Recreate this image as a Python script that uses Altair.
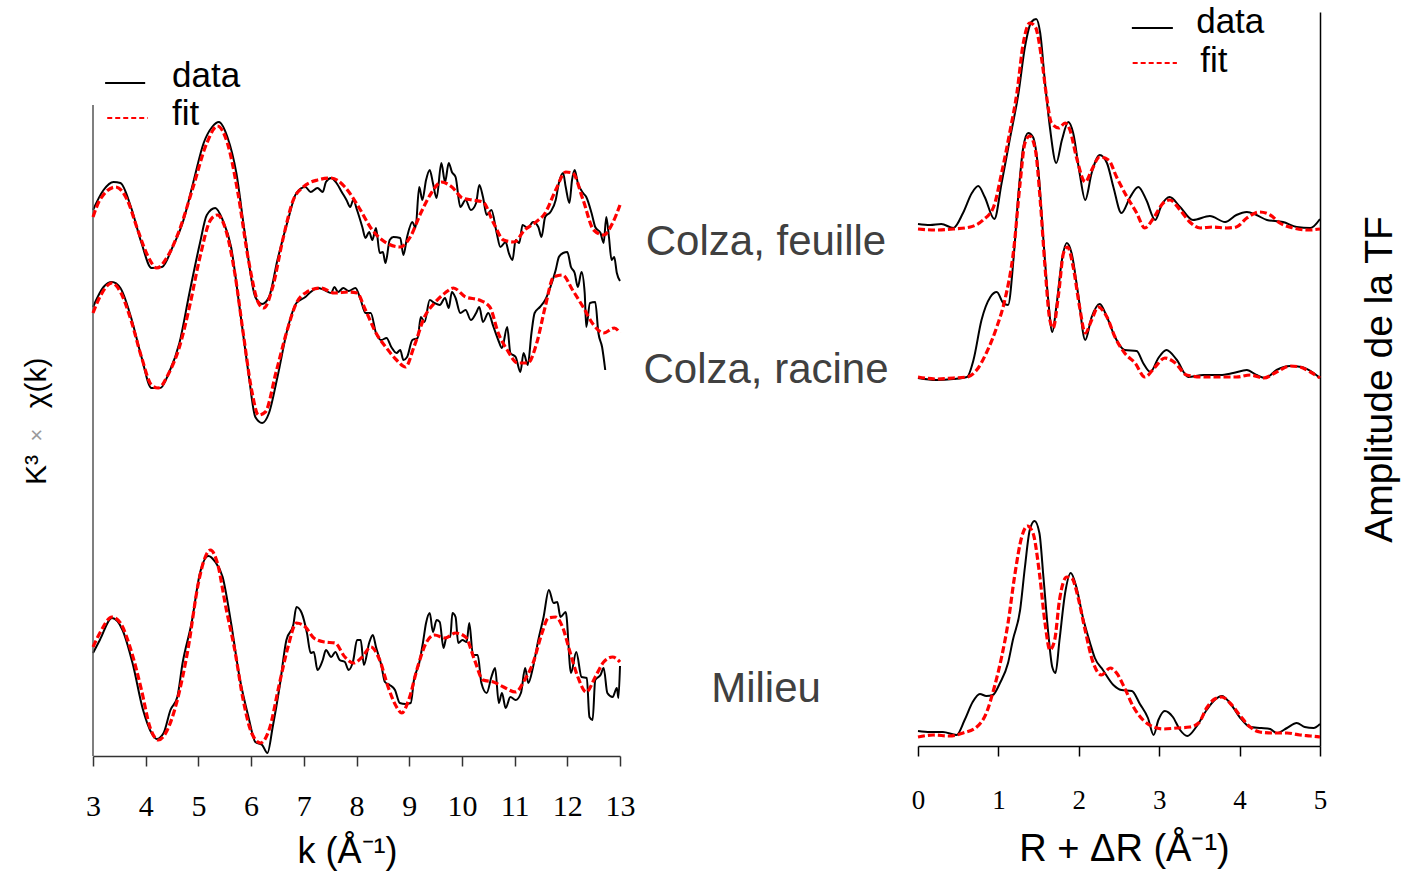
import altair as alt
import pandas as pd

# ---------------- Left panel: k^3 * chi(k), curves stacked (arbitrary units) ----------------
feuille_data = [(3.00,54.6),(3.20,56.6),(3.39,57.4),(3.52,57.3),(3.72,54.9),(3.92,51.3),(4.11,48.8),
    (4.31,48.9),(4.51,50.9),(4.70,53.3),(4.90,57.3),(5.10,61.3),(5.26,62.9),(5.39,63.4),(5.55,61.9),
    (5.72,58.3),(5.88,52.3),(6.08,45.9),(6.21,45.2),(6.34,45.9),(6.50,49.6),(6.70,53.6),(6.86,56.3),
    (7.03,56.9),(7.13,56.4),(7.26,56.8),(7.36,56.4),(7.42,57.4),(7.52,57.8),(7.62,57.3),(7.72,56.4),
    (7.81,55.6),(7.88,54.9),(7.94,55.6),(8.01,54.6),(8.11,52.9),(8.17,51.8),(8.24,52.4),(8.30,51.6),
    (8.37,52.8),(8.44,50.3),(8.50,50.4),(8.55,49.3),(8.63,51.6),(8.70,51.9),(8.83,51.8),(8.89,50.1),
    (8.96,51.9),(9.06,53.4),(9.12,52.8),(9.19,56.9),(9.25,55.6),(9.32,57.6),(9.39,58.6),(9.45,57.3),
    (9.52,55.8),(9.61,59.3),(9.68,57.4),(9.75,59.3),(9.81,58.4),(9.88,57.9),(9.97,54.9),(10.07,55.6),
    (10.17,54.6),(10.27,55.3),(10.33,57.1),(10.40,55.9),(10.47,54.1),(10.56,54.6),(10.66,52.3),
    (10.73,50.9),(10.83,51.4),(10.89,50.3),(10.96,49.6),(11.02,51.6),(11.09,51.3),(11.15,53.1),
    (11.25,52.8),(11.35,53.4),(11.45,52.9),(11.51,51.9),(11.58,53.9),(11.68,54.4),(11.78,55.6),
    (11.84,57.3),(11.92,58.3),(11.97,56.9),(12.04,55.3),(12.09,57.6),(12.14,58.6),(12.20,57.3),
    (12.30,56.3),(12.36,55.9),(12.46,54.3),(12.53,52.9),(12.63,52.3),(12.69,51.3),(12.74,53.9),
    (12.79,51.9),(12.84,49.6),(12.89,49.9),(12.94,48.3),(13.00,47.5)]
feuille_fit = [(3.00,53.9),(3.13,55.6),(3.43,56.9),(3.65,55.6),(3.85,52.6),(4.05,49.9),(4.21,48.8),
    (4.41,49.9),(4.64,52.6),(4.90,56.9),(5.16,61.3),(5.36,63.0),(5.55,61.3),(5.75,56.3),(5.95,49.6),
    (6.14,45.3),(6.24,44.8),(6.41,46.9),(6.60,51.6),(6.80,55.6),(6.99,56.9),(7.26,57.6),(7.52,57.8),
    (7.78,56.9),(8.04,54.9),(8.30,52.6),(8.57,51.3),(8.83,50.9),(9.02,51.9),(9.22,54.3),(9.42,56.3),
    (9.61,57.4),(9.81,56.9),(10.01,55.8),(10.20,55.6),(10.40,55.4),(10.60,53.3),(10.79,51.6),
    (10.99,51.4),(11.19,52.6),(11.38,53.3),(11.58,54.3),(11.78,56.6),(11.97,58.4),(12.10,58.3),
    (12.30,55.6),(12.50,52.6),(12.69,52.1),(12.86,53.3),(13.00,55.1)]
racine_data = [(3.00,44.9),(3.20,46.9),(3.36,47.4),(3.52,46.8),(3.72,43.9),(3.92,39.9),(4.11,36.8),
    (4.28,36.8),(4.44,38.3),(4.64,41.3),(4.83,46.3),(5.03,51.3),(5.16,54.1),(5.32,54.8),(5.46,53.6),
    (5.62,50.9),(5.78,44.9),(5.95,38.3),(6.08,33.9),(6.21,33.3),(6.34,34.3),(6.50,37.9),(6.70,42.9),
    (6.86,45.3),(7.03,45.9),(7.13,46.4),(7.26,46.8),(7.39,46.6),(7.52,46.3),(7.58,46.9),(7.65,46.4),
    (7.75,46.8),(7.85,46.5),(7.98,46.8),(8.08,45.6),(8.17,44.3),(8.27,44.3),(8.37,42.3),(8.47,41.6),
    (8.57,41.8),(8.66,40.9),(8.76,40.3),(8.83,40.6),(8.89,39.6),(8.96,39.9),(9.06,41.6),(9.16,41.8),
    (9.22,43.9),(9.29,43.4),(9.39,45.6),(9.48,45.3),(9.58,45.1),(9.68,45.8),(9.75,44.8),(9.81,46.4),
    (9.88,45.8),(9.97,44.3),(10.07,44.6),(10.17,43.6),(10.27,44.3),(10.33,44.9),(10.40,43.4),
    (10.50,44.3),(10.60,42.9),(10.69,41.6),(10.76,40.8),(10.86,42.9),(10.92,40.3),(11.02,39.9),
    (11.11,38.4),(11.17,40.3),(11.25,39.1),(11.32,42.3),(11.38,44.3),(11.48,44.9),(11.58,45.6),
    (11.68,46.9),(11.78,48.6),(11.84,49.9),(11.92,50.3),(12.00,50.4),(12.07,48.9),(12.14,48.3),
    (12.20,46.9),(12.27,48.4),(12.33,46.3),(12.36,42.9),(12.43,45.3),(12.53,45.4),(12.59,42.3),
    (12.66,40.9),(12.72,38.6)]
racine_fit = [(3.00,44.3),(3.13,45.9),(3.36,47.3),(3.52,46.4),(3.72,43.6),(3.92,39.9),(4.11,37.1),
    (4.24,36.8),(4.44,38.3),(4.64,40.9),(4.83,44.9),(5.03,49.9),(5.23,53.6),(5.36,54.1),(5.52,52.6),
    (5.69,48.3),(5.85,42.3),(6.01,36.6),(6.14,34.1),(6.27,34.4),(6.47,38.3),(6.67,42.3),(6.86,45.3),
    (7.06,46.4),(7.32,46.8),(7.58,46.3),(7.85,46.4),(8.01,46.3),(8.17,44.6),(8.37,42.3),(8.57,40.8),
    (8.76,39.6),(8.93,38.9),(9.09,40.9),(9.29,43.9),(9.48,45.3),(9.68,46.3),(9.84,46.8),(10.07,45.9),
    (10.33,45.6),(10.53,44.9),(10.69,42.3),(10.86,40.6),(11.06,39.3),(11.25,39.3),(11.42,41.3),
    (11.58,44.9),(11.74,47.9),(11.91,48.1),(12.10,46.6),(12.30,44.9),(12.50,43.1),(12.69,42.3),
    (12.89,42.8),(13.00,42.3)]
milieu_data = [(3.00,10.3),(3.13,11.6),(3.36,13.8),(3.56,12.6),(3.75,9.3),(3.95,4.6),(4.11,2.3),
    (4.21,1.7),(4.34,2.3),(4.47,4.6),(4.60,5.9),(4.70,9.3),(4.87,13.3),(5.03,18.3),(5.19,20.0),
    (5.32,19.4),(5.46,17.9),(5.62,13.3),(5.78,7.9),(5.95,3.9),(6.08,1.4),(6.21,1.1),(6.31,0.3),
    (6.41,2.9),(6.54,6.9),(6.67,11.6),(6.80,13.1),(6.86,14.9),(6.96,14.3),(7.06,12.3),(7.13,10.3),
    (7.19,10.4),(7.26,8.6),(7.36,9.6),(7.42,10.6),(7.52,9.9),(7.60,10.4),(7.68,9.6),(7.78,9.4),
    (7.85,8.6),(7.94,9.6),(8.01,11.6),(8.08,11.6),(8.14,9.1),(8.24,11.3),(8.31,12.1),(8.37,10.9),
    (8.47,9.1),(8.54,7.4),(8.63,7.1),(8.73,6.6),(8.82,5.3),(8.93,5.2),(9.03,5.3),(9.09,7.6),
    (9.19,9.3),(9.26,11.3),(9.32,13.3),(9.39,14.3),(9.45,12.4),(9.52,13.6),(9.58,13.4),(9.65,10.8),
    (9.71,11.9),(9.78,11.9),(9.82,14.3),(9.88,13.9),(9.93,11.3),(10.01,11.6),(10.09,11.4),
    (10.14,13.3),(10.21,10.1),(10.30,10.1),(10.37,7.3),(10.47,6.3),(10.56,7.9),(10.63,8.8),
    (10.70,5.3),(10.76,6.3),(10.83,4.8),(10.92,5.9),(11.02,5.6),(11.12,6.3),(11.20,8.8),(11.26,7.3),
    (11.35,8.9),(11.45,11.6),(11.55,13.9),(11.65,16.6),(11.74,15.3),(11.81,15.4),(11.87,13.9),
    (11.97,14.4),(12.07,8.3),(12.17,10.4),(12.27,7.9),(12.37,7.8),(12.42,3.9),(12.48,3.6),
    (12.53,7.6),(12.63,8.1),(12.69,8.8),(12.76,6.3),(12.86,5.9),(12.94,6.8),(12.97,5.8),(13.00,9.0)]
milieu_fit = [(3.00,10.9),(3.13,12.3),(3.36,13.9),(3.52,13.3),(3.72,10.6),(3.92,6.6),(4.08,2.9),
    (4.24,1.6),(4.41,2.6),(4.60,5.6),(4.80,10.6),(5.00,17.3),(5.13,19.9),(5.23,20.6),(5.36,19.3),
    (5.52,14.9),(5.69,10.6),(5.85,5.6),(6.01,2.3),(6.18,1.3),(6.34,2.6),(6.54,7.3),(6.70,10.9),
    (6.86,13.3),(7.03,12.9),(7.19,11.8),(7.39,11.4),(7.59,11.3),(7.78,9.9),(7.94,9.3),(8.11,9.9),
    (8.27,10.9),(8.44,9.6),(8.60,6.9),(8.76,4.9),(8.86,4.3),(8.99,5.6),(9.16,8.9),(9.32,11.3),
    (9.48,12.1),(9.68,11.8),(9.88,12.3),(10.07,11.9),(10.24,9.6),(10.40,7.6),(10.60,7.4),
    (10.79,6.9),(11.02,6.4),(11.19,7.6),(11.35,9.3),(11.52,12.3),(11.64,13.8),(11.78,13.9),
    (11.91,12.9),(12.04,10.6),(12.20,7.9),(12.36,6.4),(12.53,7.9),(12.69,9.4),(12.86,9.9),(13.00,9.4)]

# ---------------- Right panel: Fourier transform amplitude (stacked, arbitrary units) ----------------
tf_feuille_data = [(0.00,52.2),(0.15,52.1),(0.29,52.2),(0.44,51.8),(0.56,53.3),(0.67,55.3),(0.75,56.0),
    (0.83,54.9),(0.95,52.7),(1.04,56.3),(1.14,60.6),(1.25,65.3),(1.33,69.9),(1.41,72.4),(1.47,72.7),
    (1.52,71.3),(1.58,66.3),(1.64,61.9),(1.72,58.3),(1.79,60.6),(1.87,62.4),(1.93,61.3),(2.01,57.3),
    (2.08,54.6),(2.16,57.3),(2.26,59.1),(2.35,58.3),(2.43,55.9),(2.53,53.3),(2.64,54.9),(2.74,55.9),
    (2.84,54.6),(2.95,52.6),(3.03,54.1),(3.13,54.9),(3.26,53.9),(3.42,52.6),(3.63,53.0),(3.82,52.4),
    (3.96,53.1),(4.09,53.4),(4.21,53.1),(4.34,52.6),(4.54,52.4),(4.71,51.9),(4.88,51.8),(5.00,52.7)]
tf_feuille_fit = [(0.00,51.7),(0.23,51.6),(0.44,51.7),(0.65,51.9),(0.81,52.6),(0.94,53.9),(1.04,57.3),
    (1.14,61.3),(1.23,65.3),(1.31,70.3),(1.39,72.3),(1.46,71.9),(1.54,68.6),(1.60,64.9),(1.66,62.3),
    (1.75,61.8),(1.83,62.3),(1.89,61.6),(1.97,58.9),(2.08,56.4),(2.16,57.6),(2.26,58.9),(2.37,58.6),
    (2.47,56.9),(2.60,54.9),(2.72,53.3),(2.82,51.8),(2.93,52.8),(3.05,54.3),(3.13,54.6),(3.26,53.6),
    (3.38,52.4),(3.51,51.8),(3.67,51.9),(3.84,51.8),(3.96,51.9),(4.09,52.8),(4.25,53.4),(4.38,53.1),
    (4.50,52.3),(4.67,51.8),(4.84,51.6),(5.00,51.7)]
tf_racine_data = [(0.00,36.8),(0.23,36.6),(0.44,36.7),(0.61,36.9),(0.69,38.6),(0.79,42.6),(0.90,44.9),
    (0.98,45.4),(1.06,44.3),(1.12,44.1),(1.19,48.9),(1.25,55.3),(1.31,59.9),(1.37,61.3),(1.43,60.9),
    (1.50,57.3),(1.56,50.6),(1.62,44.6),(1.67,41.4),(1.72,43.9),(1.79,48.6),(1.85,50.3),(1.91,49.3),
    (1.99,45.3),(2.08,40.6),(2.16,42.9),(2.26,44.2),(2.35,42.9),(2.45,40.9),(2.57,39.6),(2.72,39.5),
    (2.80,38.3),(2.89,37.4),(2.99,38.8),(3.09,39.6),(3.22,38.6),(3.36,36.9),(3.55,37.1),(3.76,37.1),
    (3.92,37.3),(4.09,37.6),(4.21,37.1),(4.32,36.8),(4.46,37.6),(4.63,38.0),(4.77,37.9),(4.92,37.3),
    (5.00,36.8)]
tf_racine_fit = [(0.00,36.9),(0.23,36.7),(0.44,36.8),(0.61,36.9),(0.73,37.6),(0.85,39.3),(0.98,41.9),
    (1.08,44.6),(1.19,49.6),(1.27,56.3),(1.33,60.3),(1.39,61.0),(1.46,59.6),(1.52,54.6),(1.58,47.9),
    (1.64,42.6),(1.68,41.8),(1.75,45.3),(1.81,49.3),(1.86,49.9),(1.93,47.9),(2.01,43.9),(2.08,41.3),
    (2.16,42.6),(2.24,43.9),(2.35,42.9),(2.45,40.9),(2.57,39.3),(2.70,38.3),(2.82,36.9),(2.95,37.9),
    (3.07,38.8),(3.20,38.3),(3.34,37.1),(3.55,36.9),(3.76,36.9),(3.96,36.9),(4.13,37.1),(4.30,36.8),
    (4.46,37.4),(4.63,38.0),(4.75,37.9),(4.88,37.4),(5.00,36.8)]
tf_milieu_data = [(0.00,1.5),(0.15,1.4),(0.31,1.4),(0.48,1.1),(0.58,2.6),(0.68,4.4),(0.77,5.2),(0.85,5.0),
    (0.93,5.1),(1.02,6.3),(1.12,8.3),(1.18,10.6),(1.27,13.6),(1.33,17.9),(1.39,21.6),(1.45,22.5),
    (1.51,21.3),(1.56,16.9),(1.62,11.3),(1.67,7.9),(1.71,7.3),(1.76,10.6),(1.83,15.3),(1.90,17.3),
    (1.97,15.9),(2.05,12.9),(2.14,10.3),(2.20,8.8),(2.30,7.6),(2.43,6.1),(2.53,5.6),(2.66,5.5),
    (2.76,4.2),(2.86,2.8),(2.93,1.1),(2.99,2.6),(3.07,3.5),(3.17,2.9),(3.26,1.6),(3.35,1.0),(3.46,1.9),
    (3.59,3.6),(3.69,4.6),(3.78,5.0),(3.88,4.3),(4.00,2.9),(4.13,1.9),(4.27,1.8),(4.38,1.7),(4.46,1.3),
    (4.59,1.8),(4.71,2.3),(4.81,1.9),(4.92,1.8),(5.00,2.2)]
tf_milieu_fit = [(0.00,0.9),(0.19,1.1),(0.39,1.0),(0.56,1.3),(0.73,1.9),(0.85,3.3),(0.95,5.9),(1.04,8.9),
    (1.12,12.3),(1.20,16.9),(1.29,20.9),(1.36,22.0),(1.43,21.3),(1.51,17.3),(1.58,12.3),(1.64,9.6),
    (1.70,10.6),(1.76,14.6),(1.85,16.9),(1.91,16.8),(1.99,14.9),(2.07,11.9),(2.18,8.3),(2.28,7.1),
    (2.39,7.8),(2.47,7.3),(2.57,5.8),(2.68,3.9),(2.80,2.6),(2.93,1.9),(3.05,1.7),(3.22,1.8),(3.38,1.9),
    (3.49,2.3),(3.59,3.8),(3.69,4.7),(3.78,4.9),(3.88,4.3),(4.00,3.1),(4.13,1.9),(4.25,1.4),(4.42,1.3),
    (4.59,1.3),(4.75,1.1),(4.88,1.0),(5.00,0.9)]

sample_labels = ["Colza, feuille", "Colza, racine", "Milieu"]
sample_label_levels = [50.1, 37.3, 5.4]
k_ticks = list(range(3, 14))
r_ticks = list(range(0, 6))
legend_names = ["data", "fit"]
# legend key placement, in each panel's own data units
left_legend_lines = {"x": [3.23, 3.27], "x2": [3.99, 4.04], "v": [67.3, 63.8]}
left_legend_text = {"x": [4.50, 4.50], "v": [66.9, 63.1]}
right_legend_lines = {"x": [2.66, 2.67], "x2": [3.17, 3.22], "v": [71.8, 68.3]}
right_legend_text = {"x": [3.46, 3.51], "v": [71.3, 67.4]}
ytitle_parts = ["K³", "×", "χ(k)"]
ytitle_levels = [28.6, 32.1, 37.3]

BLACK = "#000000"
RED = "#ff0000"
DASH = [7, 3]
FONT = "Liberation Sans"


def frame(curves):
    rows = []
    for sample, pairs in curves.items():
        for x, v in pairs:
            rows.append({"x": x, "v": v, "sample": sample})
    return pd.DataFrame(rows)


left_data_df = frame({"feuille": feuille_data, "racine": racine_data, "milieu": milieu_data})
left_fit_df = frame({"feuille": feuille_fit, "racine": racine_fit, "milieu": milieu_fit})
right_data_df = frame({"feuille": tf_feuille_data, "racine": tf_racine_data, "milieu": tf_milieu_data})
right_fit_df = frame({"feuille": tf_feuille_fit, "racine": tf_racine_fit, "milieu": tf_milieu_fit})


def legend_layers(lines, texts):
    ldf = pd.DataFrame(lines)
    ldf["name"] = legend_names
    tdf = pd.DataFrame(texts)
    tdf["name"] = legend_names
    data_key = alt.Chart(ldf).transform_filter(alt.datum.name == "data").mark_rule(
        color=BLACK, strokeWidth=2).encode(x="x:Q", x2="x2:Q", y="v:Q")
    fit_key = alt.Chart(ldf).transform_filter(alt.datum.name == "fit").mark_rule(
        color=RED, strokeWidth=2, strokeDash=[5, 3]).encode(x="x:Q", x2="x2:Q", y="v:Q")
    labels = alt.Chart(tdf).mark_text(font=FONT, fontSize=35, color=BLACK, align="left",
                                      baseline="alphabetic").encode(x="x:Q", y="v:Q", text="name:N")
    return [data_key, fit_key, labels]


# ---------------- left panel ----------------
left_x = alt.X("x:Q", scale=alt.Scale(domain=[3, 13], nice=False, zero=False),
               axis=alt.Axis(values=k_ticks, format="d", grid=False, tickSize=10, tickWidth=1.5,
                             tickColor="#333333", domainColor="#333333", domainWidth=1.5,
                             labelFont="Liberation Serif", labelFontSize=30, labelColor="black",
                             labelBaseline="alphabetic", labelPadding=49, labelFlush=False,
                             labelOverlap=False, title="k (Å⁻¹)", titleFont=FONT, titleFontSize=36,
                             titleFontWeight="normal", titleColor="black", titleX=254, titleY=106,
                             titleBaseline="alphabetic", titleAlign="center"))
left_y = alt.Y("v:Q", scale=alt.Scale(domain=[0, 74.4], nice=False, zero=False), axis=None)

left_data_layer = alt.Chart(left_data_df).mark_line(color=BLACK, strokeWidth=2, interpolate="monotone").encode(
    x=left_x, y=left_y, detail="sample:N")
left_fit_layer = alt.Chart(left_fit_df).mark_line(color=RED, strokeWidth=3.2, strokeDash=DASH,
                                                  interpolate="monotone").encode(
    x="x:Q", y="v:Q", detail="sample:N")
left_axis_line = alt.Chart(pd.DataFrame({"x": [3], "v": [0], "v2": [65.1]})).mark_rule(
    color="#555555", strokeWidth=1.5).encode(x="x:Q", y="v:Q", y2="v2:Q")
label_layer = alt.Chart(pd.DataFrame({"label": sample_labels, "v": sample_label_levels})).mark_text(
    font=FONT, fontSize=42, color="#404040", align="center", baseline="alphabetic").encode(
    x=alt.value(673), y="v:Q", text="label:N")
ytitle_df = pd.DataFrame({"t": ytitle_parts, "v": ytitle_levels})
ytitle_main = alt.Chart(ytitle_df).transform_filter(alt.datum.t != "×").mark_text(
    font=FONT, fontSize=30, color=BLACK, angle=270, align="center", baseline="middle").encode(
    x=alt.value(-56), y="v:Q", text="t:N")
ytitle_times = alt.Chart(ytitle_df).transform_filter(alt.datum.t == "×").mark_text(
    font=FONT, fontSize=22, color="#9a9a9a", angle=270, align="center", baseline="middle").encode(
    x=alt.value(-56), y="v:Q", text="t:N")

left = alt.layer(left_data_layer, left_axis_line, left_fit_layer, label_layer, ytitle_main, ytitle_times,
                 *legend_layers(left_legend_lines, left_legend_text)).properties(width=527, height=744)

# ---------------- right panel ----------------
right_x = alt.X("x:Q", scale=alt.Scale(domain=[0, 5], nice=False, zero=False),
                axis=alt.Axis(values=r_ticks, format="d", grid=False, tickSize=10, tickWidth=1.5,
                              tickColor="black", domainColor="black", domainWidth=1.5,
                              labelFont="Liberation Serif", labelFontSize=27, labelColor="black",
                              labelBaseline="alphabetic", labelPadding=52, labelFlush=False,
                              labelOverlap=False, title="R + ΔR (Å⁻¹)", titleFont=FONT, titleFontSize=38,
                              titleFontWeight="normal", titleColor="black", titleX=206, titleY=114,
                              titleBaseline="alphabetic", titleAlign="center"))
right_y = alt.Y("v:Q", scale=alt.Scale(domain=[0, 73.4], nice=False, zero=False),
                axis=alt.Axis(orient="right", ticks=False, labels=False, grid=False,
                              domainColor="black", domainWidth=1.5, title="Amplitude de la TF",
                              titleFont=FONT, titleFontSize=39, titleFontWeight="normal",
                              titleColor="black", titleAngle=270, titleBaseline="top", titlePadding=40))

right_data_layer = alt.Chart(right_data_df).mark_line(color=BLACK, strokeWidth=2, interpolate="monotone").encode(
    x=right_x, y=right_y, detail="sample:N")
right_fit_layer = alt.Chart(right_fit_df).mark_line(color=RED, strokeWidth=3.2, strokeDash=DASH,
                                                    interpolate="monotone").encode(
    x="x:Q", y="v:Q", detail="sample:N")

right = alt.layer(right_data_layer, right_fit_layer,
                  *legend_layers(right_legend_lines, right_legend_text)).properties(width=402, height=734)

chart = alt.hconcat(left, right, spacing=298, bounds="flush").configure_view(stroke=None).properties(
    padding={"left": 22, "top": 5, "right": 5, "bottom": 5}, background="white")

chart.save("out.html", embed_options={"renderer": "svg", "actions": False})
